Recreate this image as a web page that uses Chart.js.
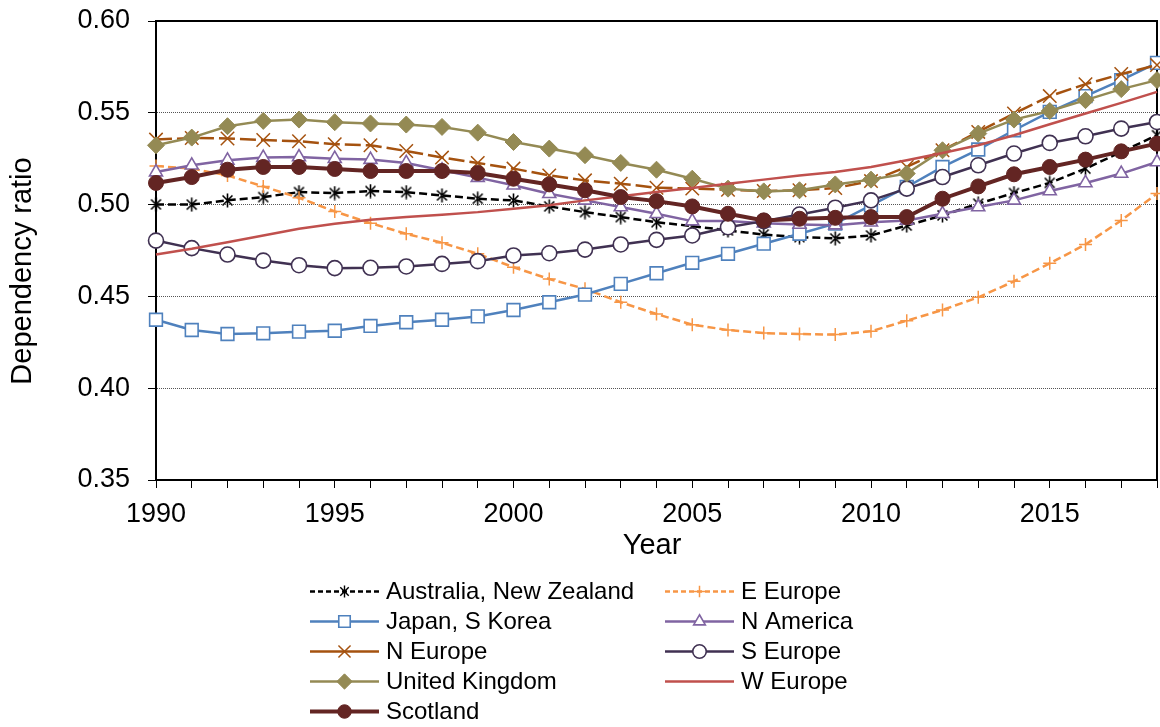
<!DOCTYPE html>
<html><head><meta charset="utf-8">
<script src="https://cdn.jsdelivr.net/npm/chart.js@4/dist/chart.umd.min.js"></script>
<style>html,body{margin:0;padding:0;background:#fff}canvas{display:block}</style>
</head><body>
<canvas id="c" width="1160" height="727"></canvas>
<script>
const years = [1990,1991,1992,1993,1994,1995,1996,1997,1998,1999,2000,2001,2002,2003,2004,2005,2006,2007,2008,2009,2010,2011,2012,2013,2014,2015,2016,2017,2018];
const australiaNZ = [.5001,.5000,.5023,.5041,.5068,.5063,.5074,.5068,.5050,.5032,.5023,.4990,.4959,.4932,.4904,.4883,.4859,.4837,.4823,.4816,.4832,.4886,.4941,.5005,.5063,.5118,.5196,.5287,.5378];
const eEurope = [.5210,.5196,.5159,.5099,.5037,.4963,.4899,.4841,.4792,.4732,.4659,.4595,.4541,.4468,.4404,.4346,.4317,.4300,.4295,.4292,.4310,.4368,.4426,.4495,.4582,.4680,.4783,.4914,.5060];
const japanSKorea = [.4373,.4317,.4295,.4299,.4308,.4313,.4339,.4359,.4373,.4391,.4426,.4468,.4510,.4568,.4626,.4683,.4732,.4787,.4841,.4896,.4996,.5096,.5205,.5300,.5405,.5505,.5591,.5678,.5772];
const nAmerica = [.5177,.5214,.5241,.5256,.5259,.5250,.5245,.5227,.5187,.5147,.5105,.5059,.5023,.4987,.4950,.4910,.4910,.4899,.4892,.4888,.4904,.4914,.4950,.4987,.5023,.5074,.5118,.5169,.5232];
const nEurope = [.5354,.5363,.5360,.5352,.5345,.5329,.5323,.5292,.5256,.5227,.5196,.5159,.5132,.5114,.5092,.5087,.5081,.5074,.5078,.5090,.5128,.5205,.5296,.5396,.5496,.5591,.5656,.5711,.5760];
const sEurope = [.4804,.4763,.4728,.4695,.4670,.4654,.4656,.4663,.4677,.4692,.4723,.4735,.4755,.4783,.4808,.4832,.4877,.4910,.4946,.4983,.5023,.5087,.5150,.5214,.5278,.5336,.5372,.5414,.5450];
const unitedKingdom = [.5323,.5365,.5427,.5456,.5463,.5449,.5442,.5436,.5423,.5392,.5341,.5305,.5269,.5227,.5190,.5141,.5087,.5072,.5078,.5110,.5136,.5169,.5296,.5387,.5463,.5510,.5569,.5629,.5678];
const wEurope = [.4728,.4759,.4795,.4832,.4868,.4896,.4917,.4932,.4945,.4959,.4978,.4996,.5023,.5045,.5068,.5090,.5114,.5136,.5158,.5178,.5205,.5241,.5281,.5323,.5378,.5438,.5496,.5554,.5614];
const scotland = [.5118,.5150,.5190,.5205,.5205,.5194,.5183,.5183,.5183,.5172,.5141,.5110,.5078,.5041,.5019,.4990,.4950,.4914,.4923,.4928,.4932,.4932,.5032,.5099,.5165,.5205,.5245,.5290,.5332];
const seriesNames = ['Australia, New Zealand','E Europe','Japan, S Korea','N America','N Europe','S Europe','United Kingdom','W Europe','Scotland'];
const xTickLabels = [1990,1995,2000,2005,2010,2015];
const yAxisTitle = 'Dependency ratio';
const xAxisTitle = 'Year';

const FONT = "'Liberation Sans', Arial, sans-serif";

function makeAsterisk(size, color, lw) {
  const c = document.createElement('canvas');
  c.width = size; c.height = size;
  const g = c.getContext('2d');
  g.strokeStyle = color; g.lineWidth = lw; g.lineCap = 'butt';
  const m = size / 2, r = size / 2 - 0.5;
  const a = Math.PI / 180 * 45;
  g.beginPath();
  g.moveTo(m, m - r); g.lineTo(m, m + r);
  g.moveTo(m - r * Math.sin(a), m - r * Math.cos(a)); g.lineTo(m + r * Math.sin(a), m + r * Math.cos(a));
  g.moveTo(m + r * Math.sin(a), m - r * Math.cos(a)); g.lineTo(m - r * Math.sin(a), m + r * Math.cos(a));
  g.stroke();
  return c;
}
const asteriskImg = makeAsterisk(15, '#000', 1.6);
const asteriskSmall = makeAsterisk(13, '#000', 1.4);

const styles = [
  {color:'#000000', dash:[8,4], legendDash:[5,3], point:asteriskImg, legendPoint:asteriskSmall, radius:7, bg:'#000', bw:1.5, lw:2.5},
  {color:'#F79646', dash:[8,4], legendDash:[5,3], point:'cross', radius:6.5, bg:'#F79646', bw:1.5, lw:2.5},
  {color:'#4F81BD', dash:[], legendDash:[], point:'rect', radius:9, bg:'#FFFFFF', bw:1.6, lw:2.5},
  {color:'#8064A2', dash:[], legendDash:[], point:'triangle', radius:7.5, bg:'#FFFFFF', bw:1.6, lw:2.5},
  {color:'#A5520F', dash:[16,5], legendDash:[], point:'crossRot', radius:9.5, bg:'#A5520F', bw:1.5, lw:2.5},
  {color:'#403152', dash:[], legendDash:[], point:'circle', radius:7.5, bg:'#FFFFFF', bw:1.6, lw:2.5},
  {color:'#948A54', dash:[], legendDash:[], point:'rectRot', radius:8.5, bg:'#948A54', bw:1, lw:2.5},
  {color:'#C0504D', dash:[], legendDash:[], point:false, radius:0, bg:'#C0504D', bw:0, lw:2.5},
  {color:'#632523', dash:[], legendDash:[], point:'circle', radius:7.5, bg:'#632523', bw:1, lw:4}
];
const values = [australiaNZ, eEurope, japanSKorea, nAmerica, nEurope, sEurope, unitedKingdom, wEurope, scotland];

const datasets = seriesNames.map((name, i) => {
  const s = styles[i];
  return {
    label: name,
    data: values[i],
    borderColor: s.color,
    backgroundColor: s.bg,
    borderWidth: s.lw,
    borderDash: s.dash,
    pointStyle: s.point || 'circle',
    pointRadius: s.point ? s.radius : 0,
    pointHoverRadius: s.point ? s.radius : 0,
    pointBorderColor: s.color,
    pointBackgroundColor: s.bg,
    pointBorderWidth: s.bw,
    tension: 0,
    fill: false,
    clip: false,
    order: seriesNames.length - i
  };
});

function drawMarker(ctx, style, r, x, y, fill, stroke, bw) {
  if (!style) return;
  ctx.save();
  if (typeof style === 'object') {
    ctx.drawImage(style, x - style.width / 2, y - style.height / 2);
    ctx.restore();
    return;
  }
  ctx.fillStyle = fill; ctx.strokeStyle = stroke; ctx.lineWidth = bw; ctx.setLineDash([]);
  ctx.beginPath();
  if (style === 'circle') {
    ctx.arc(x, y, r, 0, Math.PI * 2);
  } else if (style === 'rect') {
    const s = Math.SQRT1_2 * r;
    ctx.rect(x - s, y - s, 2 * s, 2 * s);
  } else if (style === 'rectRot') {
    ctx.moveTo(x, y - r); ctx.lineTo(x + r, y); ctx.lineTo(x, y + r); ctx.lineTo(x - r, y); ctx.closePath();
  } else if (style === 'triangle') {
    ctx.moveTo(x, y - r);
    ctx.lineTo(x + r * Math.sin(Math.PI * 2 / 3), y - r * Math.cos(Math.PI * 2 / 3));
    ctx.lineTo(x - r * Math.sin(Math.PI * 2 / 3), y - r * Math.cos(Math.PI * 2 / 3));
    ctx.closePath();
  } else if (style === 'cross') {
    ctx.moveTo(x, y - r); ctx.lineTo(x, y + r); ctx.moveTo(x - r, y); ctx.lineTo(x + r, y);
  } else if (style === 'crossRot') {
    const o = Math.SQRT1_2 * r;
    ctx.moveTo(x - o, y - o); ctx.lineTo(x + o, y + o); ctx.moveTo(x - o, y + o); ctx.lineTo(x + o, y - o);
  }
  if (style !== 'cross' && style !== 'crossRot') ctx.fill();
  ctx.stroke();
  ctx.restore();
}

const decorPlugin = {
  id: 'decor',
  beforeDatasetsDraw(chart) {
    const {ctx, chartArea: a} = chart;
    ctx.save();
    ctx.strokeStyle = '#000';
    ctx.lineWidth = 2;
    ctx.strokeRect(a.left, a.top, a.right - a.left, a.bottom - a.top);
    ctx.restore();
  },
  afterDraw(chart) {
    const ctx = chart.ctx;
    ctx.save();
    ctx.fillStyle = '#000';
    ctx.font = '29px ' + FONT;
    ctx.textAlign = 'center';
    ctx.textBaseline = 'middle';
    ctx.fillText(xAxisTitle, 652, 546);
    ctx.save();
    ctx.translate(23, 271);
    ctx.rotate(-Math.PI / 2);
    ctx.fillText(yAxisTitle, 0, 0);
    ctx.restore();
    // legend: two columns, row-major
    const colX = [310, 665];
    const rowY0 = 591.5, rowH = 30, sampleW = 69;
    ctx.font = '24px ' + FONT;
    ctx.textAlign = 'left';
    ctx.textBaseline = 'middle';
    seriesNames.forEach((name, i) => {
      const s = styles[i];
      const x0 = colX[i % 2];
      const y = rowY0 + Math.floor(i / 2) * rowH;
      ctx.save();
      ctx.strokeStyle = s.color;
      ctx.lineWidth = s.lw;
      ctx.setLineDash(s.legendDash);
      ctx.beginPath();
      ctx.moveTo(x0, y); ctx.lineTo(x0 + sampleW, y);
      ctx.stroke();
      ctx.restore();
      const p = s.legendPoint || s.point;
      drawMarker(ctx, p, s.radius * 0.9, x0 + sampleW / 2, y, s.bg, s.color, s.bw);
      ctx.fillStyle = '#000';
      ctx.fillText(name, x0 + sampleW + 7, y + 1);
    });
    ctx.restore();
  }
};

new Chart(document.getElementById('c'), {
  type: 'line',
  data: { labels: years, datasets },
  options: {
    responsive: false,
    animation: false,
    events: [],
    layout: { autoPadding: false, padding: { top: 21, right: 3, left: 0, bottom: 0 } },
    plugins: { legend: { display: false }, tooltip: { enabled: false } },
    scales: {
      x: {
        type: 'linear',
        min: years[0],
        max: years[years.length - 1],
        afterFit(scale) { scale.height = 247; scale.paddingLeft = 0; scale.paddingRight = 0; },
        ticks: {
          stepSize: 1,
          autoSkip: false,
          maxRotation: 0,
          padding: 10,
          color: '#000',
          font: { family: FONT, size: 27 },
          callback: (v) => xTickLabels.includes(v) ? String(v) : ''
        },
        grid: { display: true, drawOnChartArea: false, drawTicks: true, tickLength: 8, tickColor: '#000', tickWidth: 1, color: '#000' },
        border: { display: true, color: '#000', width: 2 }
      },
      y: {
        min: 0.35,
        max: 0.60,
        afterFit(scale) { scale.width = 156; scale.paddingTop = 0; scale.paddingBottom = 0; },
        ticks: {
          stepSize: 0.05,
          padding: 18,
          color: '#000',
          font: { family: FONT, size: 27 },
          callback: (v) => Number(v).toFixed(2)
        },
        grid: {
          display: true,
          drawOnChartArea: true,
          drawTicks: true,
          tickLength: 8,
          tickColor: '#000',
          tickWidth: 1,
          lineWidth: 1,
          color: (c) => (c.tick && (Math.abs(c.tick.value - 0.35) < 1e-6 || Math.abs(c.tick.value - 0.60) < 1e-6)) ? 'rgba(0,0,0,0)' : '#555'
        },
        border: { display: true, color: '#000', width: 2, dash: [1, 1] }
      }
    }
  },
  plugins: [decorPlugin]
});
</script>
</body></html>
